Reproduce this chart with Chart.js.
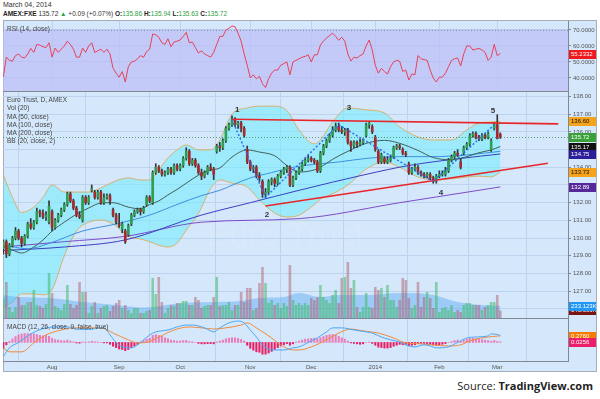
<!DOCTYPE html>
<html>
<head>
<meta charset="utf-8">
<title>AMEX:FXE</title>
<script src="https://cdn.jsdelivr.net/npm/chart.js@4.4.1/dist/chart.umd.min.js"></script>
<style>
  body { margin: 0; width: 600px; height: 399px; background: #fff; position: relative; overflow: hidden; font-family: "Liberation Sans", Arial, sans-serif; }
  .frame { position: absolute; left: 3px; top: 20px; width: 594px; height: 352px; background: #d5e7fb; border: 1px solid #a4adb8; box-sizing: border-box; }
  canvas { position: absolute; left: 3px; z-index: 1; }
  .sep { position: absolute; left: 3px; width: 565px; height: 1px; background: #7f8894; z-index: 2; }
  .legend { position: absolute; left: 7px; font-size: 6.5px; line-height: 8.3px; color: #444; white-space: nowrap; z-index: 3; }
  .head { position: absolute; left: 3px; color: #333; white-space: nowrap; }
  .head b { color: #222; }
  .g { color: #2ea043; }
  .src { position: absolute; right: 7px; top: 378px; font-family: "Open Sans", "Noto Sans", sans-serif; font-size: 11px; color: #222; }
</style>
</head>
<body>
<div class="head" style="top:1px;font-size:7px;">March 04, 2014</div>
<div class="head" style="top:10px;font-size:6.5px;"><b>AMEX:FXE</b> 135.72 <span class="g">&#9650;</span> +0.09 (+0.07%) <b>O:</b><span class="g">135.86</span> <b>H:</b><span class="g">135.94</span> <b>L:</b><span class="g">135.63</span> <b>C:</b><span class="g">135.72</span></div>

<div class="frame"></div>
<canvas id="rsi" width="594" height="71" style="top:21px"></canvas>
<canvas id="main" width="594" height="226" style="top:92px"></canvas>
<canvas id="macd" width="594" height="53" style="top:318px"></canvas>
<div class="sep" style="top:91px"></div>
<div class="sep" style="top:318px"></div>
<div class="sep" style="top:361px"></div>

<div class="legend" style="top:25px">RSI (14, close)</div>
<div class="legend" style="top:96px">Euro Trust, D, AMEX<br>Vol (20)<br>MA (50, close)<br>MA (100, close)<br>MA (200, close)<br>BB (20, close, 2)</div>
<div class="legend" style="top:323px">MACD (12, 26, close, 9, false, true)</div>

<div class="src">Source: <b>TradingView.com</b></div>

<script>
// ---- daily bars, 10 Jul 2013 .. 4 Mar 2014 (index = trading day)
const monthStarts = [16, 38, 58, 81, 101, 122, 143, 162];
const monthLabels = ['Aug', 'Sep', 'Oct', 'Nov', 'Dec', '2014', 'Feb', 'Mar'];

const opens = [
  129.4,129.8,129.1,129.6,130.0,130.4,130.0,129.7,130.1,130.8,
  130.6,130.9,131.5,131.4,131.2,130.9,131.5,130.6,131.0,131.3,
  131.6,131.9,132.5,132.1,131.7,131.3,131.0,132.3,132.0,132.7,
  132.6,132.3,132.6,132.0,132.3,132.4,131.6,131.3,130.8,130.5,
  130.4,130.2,130.8,131.3,131.5,131.6,131.5,131.9,132.3,132.0,
  133.7,134.0,133.8,133.6,133.7,133.9,133.7,134.1,133.9,134.1,
  134.5,134.9,134.2,134.4,134.1,133.7,133.5,133.7,134.0,133.9,
  134.9,135.2,135.1,135.5,136.2,136.4,136.7,136.4,136.5,136.2,
  135.0,134.3,133.9,134.0,133.5,133.2,132.5,132.6,133.2,133.3,
  133.1,133.5,133.7,133.9,134.0,133.0,133.4,133.7,133.9,134.2,
  134.4,134.5,134.4,134.3,133.8,134.8,135.2,135.5,135.8,136.1,
  136.3,136.1,136.0,136.1,135.4,135.2,135.4,135.3,135.4,135.8,
  136.4,136.3,135.7,134.9,134.3,134.5,134.3,134.4,134.6,135.1,
  135.2,135.0,134.8,134.2,133.7,133.9,134.0,133.7,133.6,133.5,
  133.6,133.4,133.2,133.5,133.6,133.6,133.8,134.4,134.6,134.8,
  134.3,134.8,135.1,135.3,135.8,135.9,135.7,135.6,135.8,135.7,
  135.0,136.2,136.4,135.86
];
const highs = [
  129.9,129.9,129.7,130.1,130.6,130.5,130.1,130.2,130.9,131.1,
  131.0,131.7,131.6,131.6,131.5,132.1,131.6,131.1,131.4,131.7,
  132.0,132.6,132.6,132.2,131.8,131.5,132.4,132.4,132.4,133.0,
  132.7,132.7,132.7,132.5,132.5,132.5,131.7,131.4,131.4,130.9,
  130.5,130.8,131.4,131.6,131.7,131.7,131.8,132.4,132.4,133.8,
  134.2,134.1,133.9,133.8,134.0,134.0,134.2,134.2,134.2,134.6,
  135.1,135.0,134.5,134.5,134.2,133.9,133.8,134.1,134.2,134.0,
  135.3,135.4,135.6,136.3,136.5,136.9,136.8,136.6,136.6,136.3,
  135.2,134.4,134.1,134.1,133.7,133.3,132.8,133.3,133.4,133.4,
  133.6,133.8,134.0,134.1,134.1,133.5,133.8,134.0,134.3,134.5,
  134.7,134.6,134.5,134.4,134.9,135.3,135.6,135.9,136.3,136.5,
  136.5,136.3,136.2,136.2,135.5,135.5,135.5,135.6,135.6,136.5,
  136.6,136.4,135.8,135.0,134.8,134.6,134.6,134.7,135.2,135.3,
  135.3,135.1,134.9,134.3,134.0,134.2,134.1,133.8,133.7,133.7,
  133.7,133.5,133.6,133.8,133.8,134.0,134.5,134.7,134.9,135.0,
  134.5,135.2,135.4,135.9,136.0,136.0,135.8,135.9,135.9,136.0,
  135.6,136.5,136.97,135.94
];
const lows = [
  129.1,128.9,129.0,129.5,129.9,129.9,129.5,129.6,130.0,130.5,
  130.5,130.8,131.2,131.1,131.0,130.8,130.4,130.5,130.9,131.2,
  131.5,131.8,132.0,131.6,131.2,131.1,130.9,131.9,131.9,132.6,
  132.2,132.2,131.9,131.9,132.2,131.9,131.2,130.8,130.6,130.3,
  129.7,130.1,130.7,131.2,131.4,131.3,131.4,131.8,132.0,131.9,
  133.6,133.7,133.5,133.5,133.6,133.6,133.6,133.8,133.8,134.0,
  134.4,134.1,134.1,134.0,133.6,133.3,133.4,133.6,133.8,133.3,
  134.8,134.9,135.0,135.4,136.1,136.3,136.3,136.2,136.0,135.7,
  134.2,133.8,133.7,133.4,133.2,132.3,132.3,132.5,133.0,132.9,
  133.0,133.4,133.6,133.7,132.9,132.9,133.3,133.6,133.8,134.1,
  134.3,134.3,134.2,133.7,133.7,134.7,135.1,135.4,135.7,136.0,
  136.0,135.9,135.8,135.3,134.9,135.1,135.1,135.2,135.3,135.7,
  136.2,135.9,134.9,134.2,134.2,134.2,134.2,134.3,134.5,135.0,
  135.0,134.7,134.6,133.6,133.6,133.8,133.6,133.5,133.4,133.4,
  133.3,133.1,133.1,133.4,133.5,133.5,133.7,134.3,134.5,134.6,
  133.9,134.7,135.0,135.2,135.7,135.6,135.5,135.5,135.6,135.6,
  134.9,136.1,135.6,135.63
];
const closes = [
  129.8,129.1,129.6,130.0,130.4,130.0,129.7,130.1,130.8,130.6,
  130.9,131.5,131.4,131.2,131.3,131.8,130.6,131.0,131.3,131.6,
  131.9,132.5,132.1,131.7,131.3,131.2,132.3,132.0,132.3,132.8,
  132.3,132.6,132.0,132.3,132.4,132.1,131.3,130.9,130.7,130.8,
  129.8,130.7,131.3,131.5,131.6,131.5,131.7,132.3,132.1,133.7,
  134.0,133.8,133.6,133.7,133.9,133.7,134.1,133.9,134.1,134.5,
  134.9,134.2,134.4,134.1,133.7,133.5,133.7,134.0,133.9,133.6,
  135.2,135.1,135.5,136.2,136.4,136.7,136.4,136.5,136.2,135.8,
  134.3,133.9,134.0,133.5,133.4,132.5,132.6,133.2,133.3,133.1,
  133.5,133.7,133.9,134.0,133.0,133.4,133.7,133.9,134.2,134.4,
  134.5,134.4,134.3,133.8,134.8,135.2,135.5,135.8,136.1,136.3,
  136.1,136.0,136.1,135.4,135.2,135.4,135.3,135.4,135.5,136.4,
  136.5,136.0,135.0,134.3,134.7,134.3,134.4,134.5,135.1,135.2,
  135.1,134.8,134.7,133.7,133.9,134.0,133.7,133.6,133.5,133.6,
  133.4,133.2,133.5,133.6,133.6,133.8,134.4,134.6,134.8,134.7,
  134.0,135.1,135.3,135.8,135.9,135.7,135.6,135.8,135.7,135.9,
  135.5,136.4,135.63,135.72
];
// volume in thousands of shares
const volumes = [
  380,684,209,114,209,399,247,247,304,304,
  532,247,228,190,266,855,475,228,190,152,
  266,627,266,190,247,684,494,494,95,228,
  304,95,190,228,247,133,228,285,342,190,
  247,152,95,190,190,95,95,133,152,760,
  456,779,304,95,190,247,228,285,285,323,
  323,247,247,399,342,190,228,247,247,399,
  779,228,247,247,304,152,247,247,494,304,
  570,570,152,190,665,969,665,285,342,247,
  285,190,285,228,1007,342,247,285,247,285,
  247,380,342,399,627,399,342,285,437,532,
  285,760,779,1064,570,722,209,114,209,475,
  209,190,589,532,570,399,627,342,342,209,
  342,760,722,380,190,247,684,209,399,494,
  380,190,684,114,190,209,152,247,114,152,
  114,247,285,285,247,247,247,152,209,247,
  304,304,437,143.366
];
const volMAIdx = [0, 5, 15, 26, 37, 46, 59, 70, 78, 84, 92, 97, 104, 110, 119, 130, 141, 149, 157, 163];
const volMA = [437, 399, 380, 304, 247, 200, 285, 304, 323, 380, 399, 475, 399, 437, 437, 475, 437, 304, 247, 233.123];

// Bollinger (20, 2) read at a few days
const bbIdx = [0,3,6,10,13,16,20,24,28,32,36,41,45,48,51,54,57,60,64,68,71,75,80,84,89,93,97,102,104,108,113,119,125,130,136,141,147,152,156,160,163];
const bbUpper = [133.56,132.3,131.45,131.75,132.3,133.0,132.6,132.6,132.6,132.83,133.17,133.4,133.28,133.28,133.85,134.53,134.98,135.26,134.98,134.98,135.54,137.0,137.35,137.45,137.45,137.2,136.1,135.32,135.54,136.56,137.35,137.24,137.07,136.28,135.71,135.54,135.54,136.11,136.5,136.56,136.60];
const bbLower = [126.11,126.4,126.85,126.85,126.8,127.1,129.0,130.4,130.9,131.02,130.8,130.1,129.95,129.8,129.6,129.5,129.72,130.46,131.4,132.8,133.28,133.11,132.89,132.15,131.42,131.19,131.3,131.9,132.2,132.5,133.0,133.9,134.3,134.0,133.45,133.3,133.35,133.45,133.5,133.45,133.73];
const bbBasis = [129.5,129.33,129.16,129.5,129.89,130.4,130.9,131.35,131.7,131.98,132.0,131.75,131.65,131.9,132.1,132.44,132.75,133.1,133.55,133.85,133.96,134.58,134.98,134.86,134.65,134.1,133.73,133.85,134.0,134.45,134.9,135.35,135.52,135.35,134.95,134.55,134.42,134.6,134.82,134.98,135.17];

const ma50Idx = [0, 8, 15, 26, 37, 48, 57, 65, 71, 81, 88, 95, 104, 110, 119, 130, 141, 152, 163];
const ma50 = [129.6, 129.4, 129.7, 130.4, 130.8, 131.3, 131.9, 132.4, 132.7, 133.4, 133.7, 134.0, 134.2, 134.3, 134.5, 134.6, 134.6, 134.7, 134.9];
const ma100Idx = [0, 20, 40, 65, 81, 97, 119, 133, 150, 163];
const ma100 = [129.3, 129.5, 129.9, 131.3, 132.0, 132.7, 133.6, 134.1, 134.5, 134.75];
const ma200Idx = [0, 20, 40, 65, 97, 130, 163];
const ma200 = [129.5, 129.8, 130.1, 130.9, 131.1, 132.0, 132.89];

// drawn analysis: trend channel and wave count
const trendHiIdx = [75, 182];
const trendHiVal = [136.71, 136.45];
const trendLoIdx = [86, 178.6];
const trendLoVal = [131.81, 134.23];
const waveIdx = [75, 86, 110, 141, 161];
const waveVal = [136.7, 132.3, 136.4, 133.2, 136.4];
const waveText = ['1', '2', '3', '4', '5'];
const waveLabelIdx = [76.7, 86.5, 113.4, 143.5, 160.6];
const waveLabelVal = [137.24, 131.3, 137.35, 132.55, 137.18];

// RSI (14)
const rsi = [
  40.6,53,51,50.5,54,55,53,52.5,55,58.5,
  56,61,60.5,59.5,59,62,53,58.7,56,58,
  60,63,61,58,53,53,58.7,56,60,62,
  56,57,58,56,58,55,46,43,40.5,44,
  37.5,47,50,50.5,52,54,53,56.5,58,67.5,
  67,65.5,62,61,64.5,59.5,62.5,63,63.7,66,
  68.5,62,62.5,59,55.6,57,55,54,53,56,
  61,66,66,70,71,72.5,72,68,63,55,
  48,40,42,39.5,41,36.5,34,39.5,43,45,
  45,48,49,50,42,50,51,52,53,53.5,
  54.5,50,54.5,54.5,60.6,63,65,66.5,68,66,
  63.5,65.5,63,55,50.6,53,52.5,54,55,60,
  63.7,57.5,48,43,46,44,42.5,47,50,51,
  50.5,44,45,38.7,42.5,42,54,52,51.5,51,
  45,40,37.5,40.5,40.5,43,47,51,52,52.5,
  47.5,55,60,60,57.5,58,58.5,57.5,56,51,
  53,61,54,55.2332
];
const rsiTicks = [40, 50, 60, 70];
const rsiBand = [30, 70];

// MACD (12, 26, 9)
const macdIdx = [0,2,5,8,11,14,18,21,24,28,31,33,35,37,39,42,44,46,48,50,54,57,60,62,66,69,71,74,77,79,81,83,85,88,92,95,97,100,103,106,108,111,115,119,121,124,127,130,133,135,138,140,142,146,149,152,155,159,160,162,163];
const macdLine = [-0.6,-0.23,0,0.28,0.49,0.62,0.66,0.66,0.57,0.55,0.62,0.62,0.32,0,-0.19,-0.23,-0.1,0.11,0.32,0.45,0.53,0.66,0.74,0.74,0.62,0.45,0.62,0.83,0.91,0.83,0.53,0.23,-0.11,-0.32,-0.32,-0.23,-0.19,0,0.19,0.45,0.62,0.62,0.53,0.45,0.4,0.23,0.11,0.02,-0.15,-0.19,-0.1,-0.15,-0.23,-0.19,0,0.19,0.23,0.28,0.36,0.34,0.3];
const signalIdx = [0,2,6,10,14,19,23,28,32,36,41,44,47,51,56,61,65,69,73,78,80,83,88,91,95,97,101,106,110,114,118,123,128,132,137,141,146,150,154,159,162,163];
const signalLine = [-0.23,-0.4,-0.4,-0.02,0.32,0.53,0.62,0.62,0.62,0.4,0.11,-0.02,0,0.23,0.53,0.66,0.62,0.57,0.62,0.74,0.83,0.62,0.19,-0.11,-0.32,-0.32,-0.19,0.11,0.4,0.57,0.49,0.4,0.19,-0.02,-0.06,-0.11,-0.15,-0.1,0.11,0.23,0.27,0.276];
const macdHist = [
  -0.25,-0.1,0.05,0.15,0.25,0.32,0.36,0.38,0.38,0.37,
  0.36,0.34,0.3,0.28,0.3,0.26,0.18,0.12,0.1,0.08,
  0.07,0.1,0.06,0.03,-0.02,-0.03,0.02,0.01,0.02,0.05,
  0.03,0.02,0,-0.02,-0.02,-0.08,-0.16,-0.22,-0.28,-0.3,
  -0.35,-0.3,-0.22,-0.15,-0.08,0.02,0.08,0.14,0.18,0.3,
  0.33,0.3,0.26,0.2,0.16,0.1,0.08,0.06,0.06,0.08,
  0.09,0.04,0.03,0,-0.04,-0.06,-0.06,-0.05,-0.05,-0.06,
  0.02,0.06,0.1,0.15,0.18,0.2,0.2,0.17,0.13,0.06,
  -0.12,-0.25,-0.33,-0.4,-0.42,-0.5,-0.5,-0.45,-0.38,-0.3,
  -0.22,-0.15,-0.1,-0.05,-0.12,-0.06,0.02,0.06,0.1,0.14,
  0.15,0.17,0.18,0.15,0.2,0.25,0.3,0.33,0.34,0.32,
  0.26,0.2,0.14,0.06,-0.02,-0.04,-0.06,-0.08,-0.06,0,
  0.02,-0.04,-0.12,-0.2,-0.22,-0.24,-0.24,-0.22,-0.16,-0.12,
  -0.08,-0.1,-0.1,-0.14,-0.12,-0.1,-0.04,-0.04,-0.04,-0.05,
  -0.08,-0.1,-0.12,-0.1,-0.08,-0.05,0,0.04,0.08,0.1,
  0.05,0.1,0.14,0.17,0.18,0.16,0.14,0.12,0.1,0.08,
  0.05,0.09,0.04,0.0256
];

const priceTicks = [126, 127, 128, 129, 130, 131, 132, 133, 134, 135, 136, 137, 138];

// ---- view ranges
const xMin = -0.1, xMax = 185.2;
const priceMin = 125.49, priceMax = 138.25;
const volMax = 4294;
const rsiMin = 31.25, rsiMax = 75.6;
const macdMin = -0.79, macdMax = 1.04;

Chart.defaults.font.family = '"Liberation Sans", Arial, sans-serif';
Chart.defaults.animation = false;

const last = a => a[a.length - 1];
const pts = (idx, vals) => idx.map((x, k) => ({ x: x, y: vals[k] }));
const series = vals => vals.map((v, i) => ({ x: i, y: v }));

function xAxis(withLabels) {
  return {
    type: 'linear', min: xMin, max: xMax, offset: false,
    afterBuildTicks: s => { s.ticks = monthStarts.map(v => ({ value: v })); },
    afterFit: s => { s.height = withLabels ? 10 : 0; s.paddingLeft = 0; s.paddingRight = 0; },
    grid: { color: '#bcd3ee', drawTicks: false },
    border: { display: false },
    ticks: {
      display: withLabels, autoSkip: false, maxRotation: 0, padding: 3,
      color: '#555', font: { size: 6 },
      callback: (v, i) => monthLabels[i]
    }
  };
}
function fitRight(s) { s.width = 29; s.paddingTop = 0; s.paddingBottom = 0; }

function drawTag(ctx, x, y, text, bg, fg) {
  ctx.fillStyle = bg;
  ctx.fillRect(x, Math.round(y) - 4, 27, 9);
  ctx.fillStyle = fg;
  ctx.font = '6px "Liberation Sans", Arial, sans-serif';
  ctx.textAlign = 'left';
  ctx.textBaseline = 'middle';
  ctx.fillText(text, x + 2, Math.round(y) + 0.5);
}

const baseOptions = {
  responsive: false,
  maintainAspectRatio: false,
  layout: { padding: 0 },
  plugins: { legend: { display: false }, tooltip: { enabled: false } },
  elements: { point: { radius: 0 } }
};

// ---------- RSI pane
new Chart(document.getElementById('rsi'), {
  type: 'line',
  data: { datasets: [{ data: series(rsi), borderColor: '#e8405a', borderWidth: 1, pointRadius: 0 }] },
  options: Object.assign({}, baseOptions, {
    scales: {
      x: xAxis(false),
      y: {
        position: 'right', min: rsiMin, max: rsiMax,
        afterBuildTicks: s => { s.ticks = rsiTicks.map(v => ({ value: v })); },
        afterFit: fitRight,
        grid: { color: '#bfc8f0', tickColor: '#7f8894', tickLength: 3 },
        border: { color: '#7f8894' },
        ticks: { color: '#555', font: { size: 6 }, padding: 2, callback: v => v.toFixed(4) }
      }
    }
  }),
  plugins: [{
    id: 'rsiBand',
    beforeDatasetsDraw(chart) {
      const { ctx, chartArea: a, scales: { y } } = chart;
      const top = y.getPixelForValue(rsiBand[1]);
      ctx.save();
      ctx.fillStyle = 'rgba(188,192,246,0.75)';
      ctx.fillRect(a.left, top, a.width, a.bottom - top);
      ctx.strokeStyle = '#8c90b4';
      ctx.setLineDash([1, 2]);
      ctx.beginPath();
      ctx.moveTo(a.left, Math.round(top) + 0.5);
      ctx.lineTo(a.right, Math.round(top) + 0.5);
      ctx.stroke();
      ctx.restore();
    },
    afterDraw(chart) {
      const { ctx, chartArea: a, scales: { y } } = chart;
      drawTag(ctx, a.right + 1, y.getPixelForValue(last(rsi)), last(rsi).toFixed(4), '#f0191e', '#fff');
    }
  }]
});

// ---------- price pane
const upColor = '#2f9e52', downColor = '#a8282b';
const isUp = i => closes[i] >= opens[i];
const lineDs = (data, color, extra) => Object.assign({
  type: 'line', data: data, borderColor: color, borderWidth: 1, pointRadius: 0,
  cubicInterpolationMode: 'monotone', fill: false
}, extra || {});

new Chart(document.getElementById('main'), {
  type: 'line',
  data: {
    datasets: [
      lineDs(pts(bbIdx, bbUpper), '#d6b16a', { fill: '+1', backgroundColor: 'rgba(118,236,253,0.6)', order: 10 }),
      lineDs(pts(bbIdx, bbLower), '#d6b16a', { order: 9 }),
      lineDs(pts(volMAIdx, volMA), 'rgba(0,0,0,0)', { yAxisID: 'yVol', fill: 'origin', backgroundColor: 'rgba(80,165,240,0.42)', borderWidth: 0, order: 8 }),
      {
        type: 'bar', data: series(volumes), yAxisID: 'yVol', grouped: false,
        barPercentage: 0.85, categoryPercentage: 1, order: 7,
        backgroundColor: c => isUp(c.dataIndex) ? 'rgba(60,185,100,0.55)' : 'rgba(170,80,90,0.45)'
      },
      lineDs(pts(bbIdx, bbBasis), '#3f5f57', { order: 5 }),
      lineDs(pts(ma50Idx, ma50), '#3d8ee0', { order: 5 }),
      lineDs(pts(ma100Idx, ma100), '#3a3fc0', { order: 5 }),
      lineDs(pts(ma200Idx, ma200), '#7d4cc8', { order: 5 }),
      {
        type: 'bar', data: lows.map((l, i) => ({ x: i, y: [l, highs[i]] })), grouped: false,
        barThickness: 1, backgroundColor: '#353535', order: 3
      },
      {
        type: 'bar', data: opens.map((o, i) => ({ x: i, y: [o, closes[i]] })), grouped: false,
        barThickness: 2, minBarLength: 1, order: 2,
        backgroundColor: c => isUp(c.dataIndex) ? upColor : downColor
      },
      lineDs(pts(trendHiIdx, trendHiVal), '#e8262a', { borderWidth: 1.6, cubicInterpolationMode: 'default', order: 1 }),
      lineDs(pts(trendLoIdx, trendLoVal), '#e8262a', { borderWidth: 1.6, cubicInterpolationMode: 'default', order: 1 }),
      lineDs(pts(waveIdx, waveVal), '#2f6cf2', { borderWidth: 1.5, borderDash: [2, 2], cubicInterpolationMode: 'default', order: 0 })
    ]
  },
  options: Object.assign({}, baseOptions, {
    scales: {
      x: xAxis(false),
      y: {
        position: 'right', min: priceMin, max: priceMax,
        afterBuildTicks: s => { s.ticks = priceTicks.map(v => ({ value: v })); },
        afterFit: fitRight,
        grid: { color: '#bcd3ee', tickColor: '#7f8894', tickLength: 3 },
        border: { color: '#7f8894' },
        ticks: { color: '#555', font: { size: 6 }, padding: 2, callback: v => v.toFixed(2) }
      },
      yVol: { display: false, min: 0, max: volMax }
    }
  }),
  plugins: [{
    id: 'priceDecor',
    beforeDatasetsDraw(chart) {
      const { ctx, chartArea: a, scales: { y } } = chart;
      ctx.save();
      ctx.beginPath(); ctx.rect(a.left, a.top, a.width, a.height); ctx.clip();
      ctx.font = '34px "Liberation Sans", Arial, sans-serif';
      ctx.fillStyle = 'rgba(255,255,255,0.1)';
      ctx.textAlign = 'center'; ctx.textBaseline = 'middle';
      ctx.fillText('Euro Trust', a.left + a.width * 0.5, y.getPixelForValue(130.1));
      ctx.restore();
    },
    afterDatasetsDraw(chart) {
      const { ctx, chartArea: a, scales: { x, y } } = chart;
      ctx.save();
      const py = Math.round(y.getPixelForValue(last(closes))) + 0.5;
      ctx.strokeStyle = 'rgba(60,140,80,0.8)';
      ctx.lineWidth = 1;
      ctx.setLineDash([1, 2]);
      ctx.beginPath(); ctx.moveTo(a.left, py); ctx.lineTo(a.right, py); ctx.stroke();
      ctx.setLineDash([]);
      ctx.font = 'bold 8px "Liberation Sans", Arial, sans-serif';
      ctx.fillStyle = '#333';
      ctx.textAlign = 'center'; ctx.textBaseline = 'middle';
      waveText.forEach((t, k) => ctx.fillText(t, x.getPixelForValue(waveLabelIdx[k]), y.getPixelForValue(waveLabelVal[k])));
      ctx.restore();
    },
    afterDraw(chart) {
      const { ctx, chartArea: a, scales: { y, yVol } } = chart;
      const tx = a.right + 1;
      drawTag(ctx, tx, y.getPixelForValue(last(bbUpper)), last(bbUpper).toFixed(2), '#f7a21b', '#111');
      drawTag(ctx, tx, y.getPixelForValue(last(closes)), last(closes).toFixed(2), '#3aa03a', '#fff');
      drawTag(ctx, tx, y.getPixelForValue(last(bbBasis)), last(bbBasis).toFixed(2), '#111', '#fff');
      drawTag(ctx, tx, y.getPixelForValue(last(ma100)), last(ma100).toFixed(2), '#2c1f9a', '#fff');
      drawTag(ctx, tx, y.getPixelForValue(last(bbLower)), last(bbLower).toFixed(2), '#f7a21b', '#111');
      drawTag(ctx, tx, y.getPixelForValue(last(ma200)), last(ma200).toFixed(2), '#57289a', '#fff');
      drawTag(ctx, tx, yVol.getPixelForValue(last(volumes)), last(volumes).toFixed(3) + 'K', '#7a1515', '#fff');
      drawTag(ctx, tx, yVol.getPixelForValue(last(volMA)), last(volMA).toFixed(3) + 'K', '#2196f3', '#fff');
    }
  }]
});

// ---------- MACD pane
new Chart(document.getElementById('macd'), {
  type: 'line',
  data: {
    datasets: [
      {
        type: 'bar', data: series(macdHist), grouped: false, barThickness: 1.4, order: 3,
        backgroundColor: c => macdHist[c.dataIndex] >= 0 ? 'rgba(240,90,160,0.75)' : '#e91e63'
      },
      lineDs(pts(signalIdx, signalLine), '#f08a3c', { order: 2 }),
      lineDs(pts(macdIdx, macdLine), '#4aa8f5', { order: 1 })
    ]
  },
  options: Object.assign({}, baseOptions, {
    scales: {
      x: xAxis(true),
      y: {
        position: 'right', min: macdMin, max: macdMax,
        afterFit: fitRight,
        grid: { display: false },
        border: { color: '#7f8894' },
        ticks: { display: false }
      }
    }
  }),
  plugins: [{
    id: 'macdTags',
    afterDraw(chart) {
      const { ctx, chartArea: a, scales: { y } } = chart;
      drawTag(ctx, a.right + 1, y.getPixelForValue(last(signalLine)), last(signalLine).toFixed(4), '#f57c00', '#fff');
      drawTag(ctx, a.right + 1, y.getPixelForValue(last(macdHist)), last(macdHist).toFixed(4), '#ec1e6a', '#fff');
    }
  }]
});
</script>
</body>
</html>
